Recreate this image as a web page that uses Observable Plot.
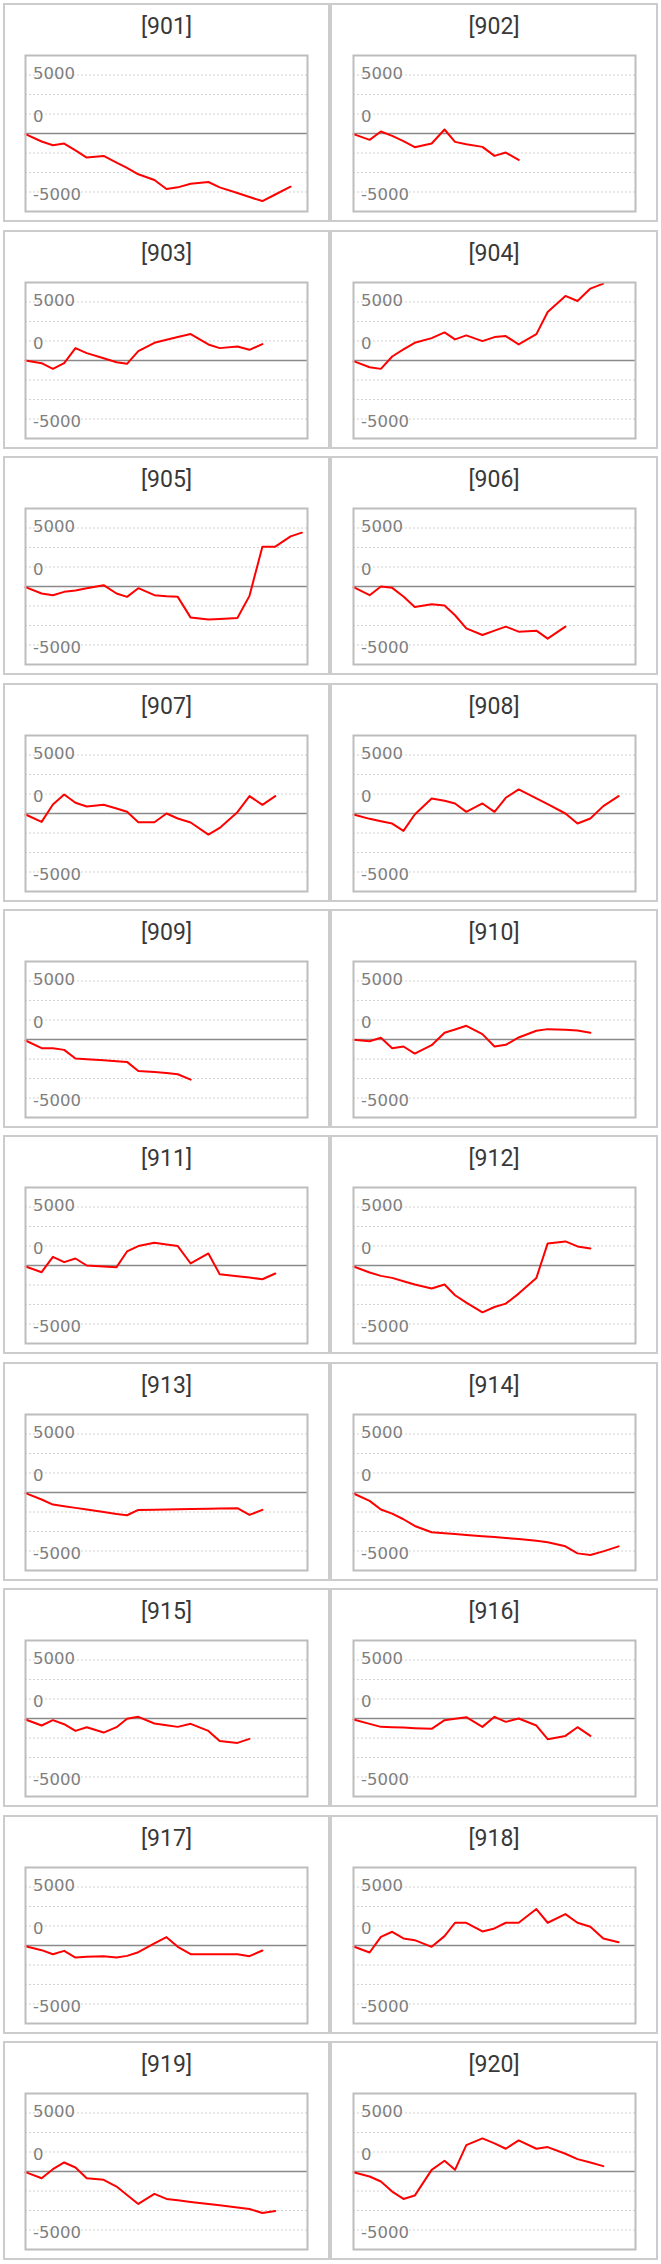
<!DOCTYPE html>
<html>
<head>
<meta charset="utf-8">
<script src="https://cdn.jsdelivr.net/npm/d3@7"></script>
<script src="https://cdn.jsdelivr.net/npm/@observablehq/plot@0.6"></script>
<style>
  html, body { margin: 0; padding: 0; background: #fff; }
  body { width: 661px; height: 2264px; position: relative; overflow: hidden; font-family: Roboto, sans-serif; }
  .panel { position: absolute; box-sizing: border-box; border: 2px solid #cccccc; height: 219px; background: #fff; }
  .title { position: absolute; left: 0; right: 0; top: 10px; text-align: center; font-family: Roboto, sans-serif; font-size: 23px; line-height: 23px; color: #383838; }
  .chart { position: absolute; top: 48px; }
  .chart svg { display: block; }
</style>
</head>
<body>
<div id="root"></div>
<script>
// Shared sampling days (x positions)
const days = [0, 20, 34, 48, 62, 76, 97, 113, 126, 140, 160, 175, 189, 205, 227, 241, 263, 278, 294, 310, 329, 343];
const xDomain = [0, 350];

const panelIds = ["901","902","903","904","905","906","907","908","909","910",
                  "911","912","913","914","915","916","917","918","919","920"];

const s901 = [-57, -686, -1000, -858, -1447, -2058, -1915, -2487, -2944, -3487, -3973, -4745, -4602, -4288, -4145, -4602, -5089, -5432, -5775, -5214, -4545];
const s902 = [-57, -543, 172, -200, -658, -1172, -858, 343, -715, -915, -1144, -1915, -1630, -2258];
const s903 = [0, -229, -715, -229, 1058, 629, 189, -143, -286, 800, 1515, 1772, 2015, 2258, 1372, 1058, 1201, 915, 1401];
const s904 = [-57, -572, -715, 343, 943, 1515, 1915, 2401, 1801, 2144, 1658, 2001, 2087, 1372, 2258, 4145, 5518, 5089, 6146, 6575];
const s905 = [-57, -600, -743, -457, -343, -143, 114, -600, -886, -143, -743, -829, -886, -2659, -2830, -2773, -2687, -800, 3402, 3402, 4288, 4602];
const s906 = [-57, -743, 0, -114, -857, -1744, -1515, -1630, -2459, -3573, -4145, -3773, -3430, -3859, -3773, -4459, -3430];
const s907 = [-86, -715, 772, 1630, 915, 600, 743, 429, 143, -743, -743, 0, -429, -772, -1801, -1229, 114, 1487, 743, 1487];
const s908 = [-86, -457, -657, -858, -1487, -86, 1287, 1086, 858, 143, 858, 143, 1344, 2058, 1287, 800, 0, -858, -429, 629, 1487];
const s909 = [-86, -743, -743, -886, -1630, -1687, -1772, -1858, -1915, -2687, -2773, -2859, -2973, -3430];
const s910 = [-29, -143, 143, -743, -600, -1201, -486, 572, 858, 1172, 457, -600, -457, 172, 743, 886, 829, 772, 572];
const s911 = [-86, -572, 743, 286, 600, 0, -86, -143, 1201, 1658, 1944, 1801, 1658, 172, 1029, -743, -915, -1029, -1172, -686];
const s912 = [-86, -600, -886, -1058, -1344, -1630, -1972, -1630, -2544, -3173, -4002, -3545, -3259, -2401, -1058, 1887, 2058, 1630, 1458];
const s913 = [-57, -600, -1029, -1172, -1315, -1458, -1658, -1830, -1944, -1487, -1472, -1447, -1430, -1412, -1386, -1369, -1344, -1915, -1487];
const s914 = [-86, -715, -1458, -1801, -2287, -2859, -3402, -3487, -3553, -3628, -3731, -3810, -3888, -3973, -4116, -4245, -4602, -5203, -5346, -5031, -4602];
const s915 = [-86, -600, -143, -486, -1058, -743, -1201, -743, -29, 143, -429, -572, -715, -457, -1058, -1915, -2087, -1744];
const s916 = [-86, -457, -715, -743, -772, -829, -886, -143, -14, 114, -715, 143, -286, 0, -600, -1772, -1487, -743, -1487];
const s917 = [-57, -400, -743, -457, -1029, -972, -915, -1029, -886, -572, 172, 715, -114, -743, -743, -743, -743, -915, -429];
const s918 = [-86, -600, 743, 1172, 600, 457, -114, 800, 1944, 1944, 1201, 1458, 1944, 1944, 3116, 1944, 2687, 1944, 1601, 600, 286];
const s919 = [-57, -572, 200, 772, 343, -572, -715, -1286, -2001, -2773, -1915, -2344, -2459, -2601, -2773, -2887, -3087, -3202, -3545, -3373];
const s920 = [-57, -429, -858, -1715, -2344, -2058, 143, 915, 143, 2258, 2830, 2401, 1944, 2659, 1944, 2087, 1515, 1058, 772, 457];

const seriesList = [s901, s902, s903, s904, s905, s906, s907, s908, s909, s910,
                    s911, s912, s913, s914, s915, s916, s917, s918, s919, s920];

const yDomain = [-6667, 6667];
const gridValues = [5000, 3333, 1667, -1667, -3333, -5000];
const tickTop = 5000, tickMid = 0, tickBottom = -5000;

const root = document.getElementById("root");
const colLeft = [3, 330];
const colWidth = [327, 328];
const chartLeft = [18, 19];

const tickStyle = {frameAnchor: "left", textAnchor: "start", dx: 7.5, fill: "#7f7f7f", fontSize: 16.5, fontFamily: "'DejaVu Sans', sans-serif"};

panelIds.forEach((id, k) => {
  const r = Math.floor(k / 2), c = k % 2;
  const panel = document.createElement("div");
  panel.className = "panel";
  panel.style.left = colLeft[c] + "px";
  panel.style.width = colWidth[c] + "px";
  panel.style.top = Math.round(3.3 + r * 226.4) + "px";

  const title = document.createElement("div");
  title.className = "title";
  title.textContent = "[" + id + "]";
  panel.appendChild(title);

  const data = seriesList[k].map((v, i) => ({day: days[i], v}));

  const chart = Plot.plot({
    width: 286,
    height: 160,
    marginTop: 2, marginBottom: 2, marginLeft: 2, marginRight: 2,
    style: {background: "transparent"},
    x: {domain: xDomain, axis: null},
    y: {domain: yDomain, axis: null},
    marks: [
      Plot.ruleY(gridValues, {stroke: "#d2d2d2", strokeWidth: 1, strokeDasharray: "2,2"}),
      Plot.ruleY([0], {stroke: "#8a8a8a", strokeWidth: 1.5}),
      Plot.text([tickTop], {y: d => d, text: d => String(d), dy: -1.5, ...tickStyle}),
      Plot.text([tickMid], {y: d => d, text: d => String(d), dy: -16.5, ...tickStyle}),
      Plot.text([tickBottom], {y: d => d, text: d => String(d), dy: 3, ...tickStyle}),
      Plot.line(data, {x: "day", y: "v", stroke: "#ff0000", strokeWidth: 2}),
      Plot.frame({stroke: "#bdbdbd", strokeWidth: 2})
    ]
  });
  const wrap = document.createElement("div");
  wrap.className = "chart";
  wrap.style.left = chartLeft[c] + "px";
  wrap.appendChild(chart);
  panel.appendChild(wrap);
  root.appendChild(panel);
});
</script>
</body>
</html>
